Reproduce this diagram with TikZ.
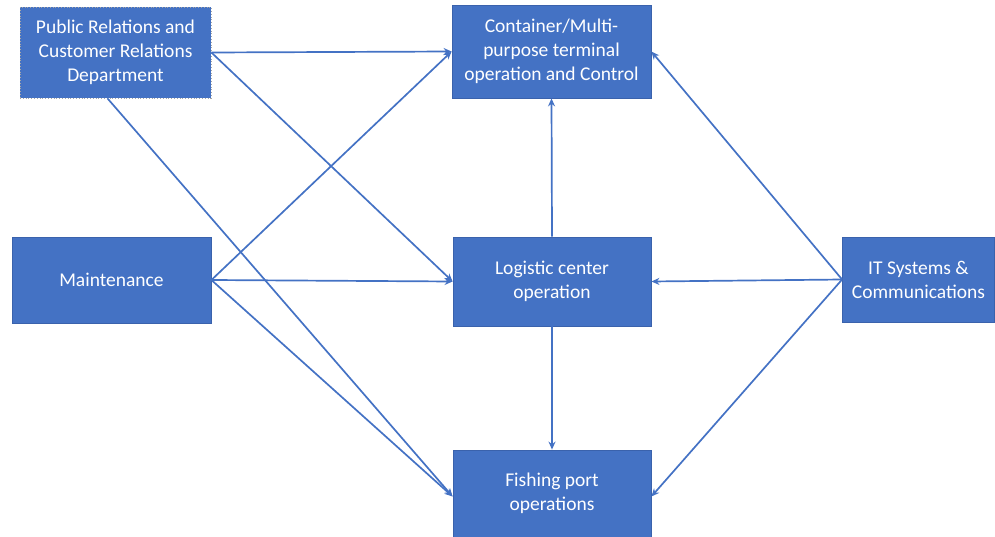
\documentclass[tikz,border=0pt]{standalone}
\usepackage{fontspec}
\setmainfont{Carlito}
\usetikzlibrary{arrows.meta}
\definecolor{boxfill}{HTML}{4472C4}
\definecolor{boxedge}{HTML}{3A62AC}
\definecolor{linkcol}{HTML}{4472C4}
\begin{document}
\begin{tikzpicture}[x=1pt,y=-1pt,
  unit/.style={draw=boxedge,line width=0.8pt,fill=boxfill,text=white,align=center,
    font=\fontsize{19.5}{24}\selectfont,inner sep=0pt},
  link/.style={draw=linkcol,line width=1.7pt,-{Stealth[length=8pt,width=7pt]}}]
\useasboundingbox (0,0) rectangle (995,537);
\node[unit,minimum width=191pt,minimum height=91pt,draw=gray!70,dotted] (pr) at (115.5,52.5)
  {Public Relations and\\Customer Relations\\Department};
\node[unit,minimum width=199pt,minimum height=93pt] (cont) at (551.5,51.5)
  {Container/Multi-\\purpose terminal\\operation and Control};
\node[unit,minimum width=199pt,minimum height=86pt] (maint) at (111.5,280)
  {Maintenance};
\node[unit,minimum width=198pt,minimum height=89pt] (log) at (552,281.5)
  {Logistic center\\operation};
\node[unit,minimum width=152pt,minimum height=85pt] (it) at (918.5,279.5)
  {IT Systems \&\\Communications};
\node[unit,minimum width=198pt,minimum height=87pt] (fish) at (552,493.5)
  {Fishing port\\operations};
% links from the public relations department
\draw[link] (pr.east) -- (cont.west);
\draw[link] (pr.east) -- (log.west);
\draw[link] ([xshift=-8pt]pr.south) -- ([yshift=-3pt]fish.west);
% links from maintenance
\draw[link] (maint.east) -- (cont.west);
\draw[link] (maint.east) -- (log.west);
\draw[link] (maint.east) -- ([yshift=-3pt]fish.west);
% links between the central units
\draw[link] (log.north) -- (cont.south);
\draw[link] (log.south) -- (fish.north);
% links from IT systems
\draw[link] (it.west) -- (cont.east);
\draw[link] (it.west) -- (log.east);
\draw[link] (it.west) -- ([yshift=-3pt]fish.east);
\end{tikzpicture}
\end{document}
